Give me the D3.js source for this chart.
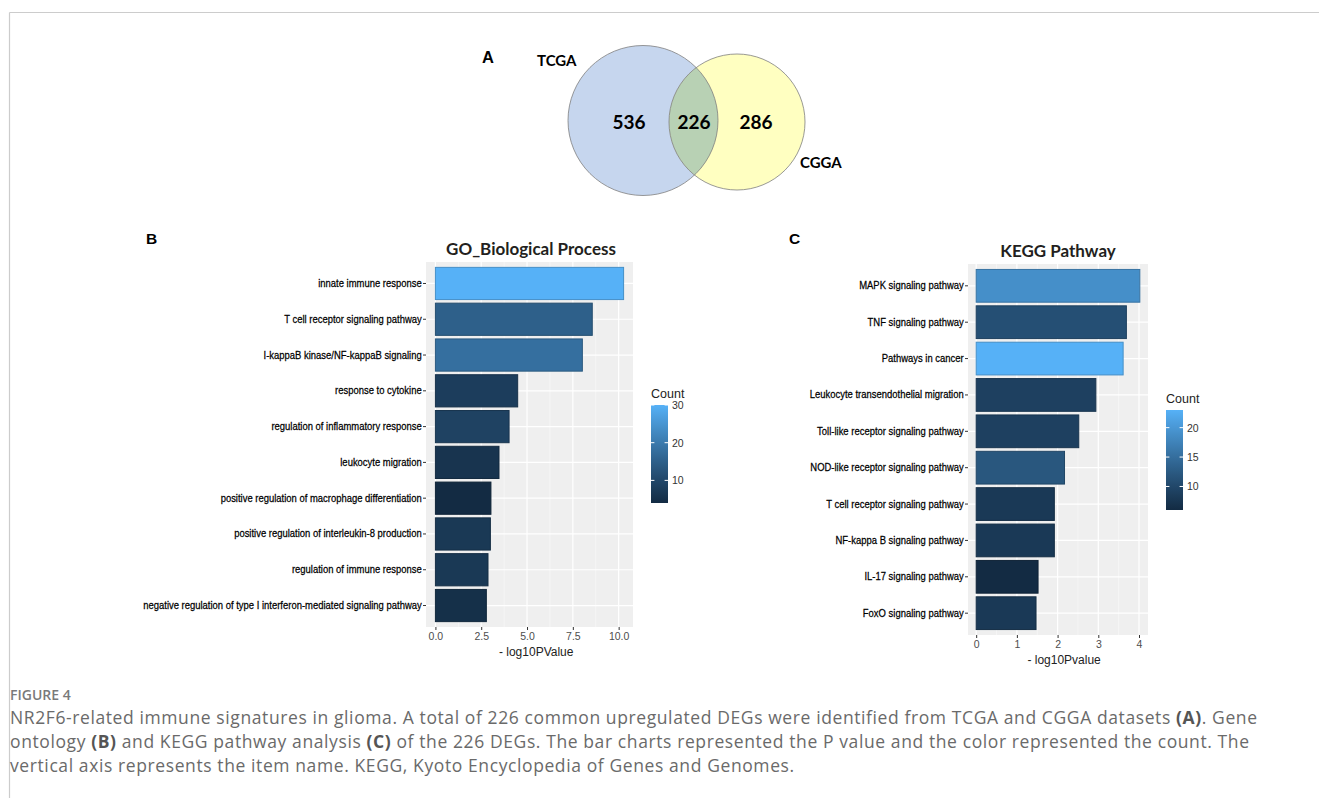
<!DOCTYPE html>
<html>
<head>
<meta charset="utf-8">
<script src="https://cdn.jsdelivr.net/npm/d3@7"></script>
<style>
  body { margin: 0; background: #fff; }
</style>
</head>
<body>
<div id="fig"></div>
<script>
// ---- data ----
var vennSets = ["TCGA", "CGGA"]
var vennCounts = [536, 226, 286]   // TCGA only, both, CGGA only

var goTerms = [
  "innate immune response",
  "T cell receptor signaling pathway",
  "I-kappaB kinase/NF-kappaB signaling",
  "response to cytokine",
  "regulation of inflammatory response",
  "leukocyte migration",
  "positive regulation of macrophage differentiation",
  "positive regulation of interleukin-8 production",
  "regulation of immune response",
  "negative regulation of type I interferon-mediated signaling pathway"
]
var goLogP = [10.27, 8.56, 8.02, 4.49, 4.02, 3.47, 3.03, 3.0, 2.87, 2.78]
var goCount = [30, 15, 18, 8, 9, 6, 4, 7, 7, 5]
var goTicks = [0, 2.5, 5, 7.5, 10]
var goLegendTicks = [10, 20, 30]

var keggTerms = [
  "MAPK signaling pathway",
  "TNF signaling pathway",
  "Pathways in cancer",
  "Leukocyte transendothelial migration",
  "Toll-like receptor signaling pathway",
  "NOD-like receptor signaling pathway",
  "T cell receptor signaling pathway",
  "NF-kappa B signaling pathway",
  "IL-17 signaling pathway",
  "FoxO signaling pathway"
]
var keggLogP = [4.02, 3.69, 3.61, 2.94, 2.52, 2.17, 1.92, 1.92, 1.52, 1.47]
var keggCount = [19, 11, 23, 9, 9, 12, 8, 8, 6, 8]
var keggTicks = [0, 1, 2, 3, 4]
var keggLegendTicks = [10, 15, 20]

var captionTitle = "FIGURE 4"
var captionLines = [
  [["NR2F6-related immune signatures in glioma. A total of 226 common upregulated DEGs were identified from TCGA and CGGA datasets ", 0], ["(A)", 1], [". Gene", 0]],
  [["ontology ", 0], ["(B)", 1], [" and KEGG pathway analysis ", 0], ["(C)", 1], [" of the 226 DEGs. The bar charts represented the P value and the color represented the count. The", 0]],
  [["vertical axis represents the item name. KEGG, Kyoto Encyclopedia of Genes and Genomes.", 0]]
]

var W = 1319, H = 798
var svg = d3.select("#fig").append("svg").attr("width", W).attr("height", H)
    .style("font-family", "'Liberation Sans', Arial, sans-serif")

// frame lines
svg.append("line").attr("x1", 9.5).attr("y1", 12.5).attr("x2", W).attr("y2", 12.5)
    .attr("stroke", "#cccccc").attr("stroke-width", 1.2)
svg.append("line").attr("x1", 9.5).attr("y1", 12.5).attr("x2", 9.5).attr("y2", H)
    .attr("stroke", "#cccccc").attr("stroke-width", 1.2)

// ---- venn (A) ----
function draw_venn() {
    var g = svg.append("g")
    var c1 = {x: 643, y: 120.5, r: 75}
    var c2 = {x: 737, y: 122, r: 68}

    svg.append("clipPath").attr("id", "clip-left")
        .append("circle").attr("cx", c1.x).attr("cy", c1.y).attr("r", c1.r)

    g.append("circle").attr("cx", c1.x).attr("cy", c1.y).attr("r", c1.r)
        .attr("fill", "#c6d6ee")
    g.append("circle").attr("cx", c2.x).attr("cy", c2.y).attr("r", c2.r)
        .attr("fill", "#ffffc1")
    g.append("circle").attr("cx", c2.x).attr("cy", c2.y).attr("r", c2.r)
        .attr("fill", "#b8d1b4").attr("clip-path", "url(#clip-left)")
    g.selectAll("circle.edge").data([c1, c2]).enter().append("circle")
        .attr("class", "edge")
        .attr("cx", d => d.x).attr("cy", d => d.y).attr("r", d => d.r)
        .attr("fill", "none").attr("stroke", "#7f7f7f").attr("stroke-width", 0.8)

    var numX = [629, 694, 756]
    g.selectAll("text.num").data(vennCounts).enter().append("text")
        .attr("class", "num")
        .attr("x", (d, i) => numX[i]).attr("y", 129)
        .attr("text-anchor", "middle")
        .style("font-family", "Lato, 'Open Sans', sans-serif")
        .style("font-weight", "bold").style("font-size", "19px")
        .text(d => d)

    g.append("text").attr("x", 537).attr("y", 66).text(vennSets[0])
        .style("font-family", "Lato, sans-serif").style("font-weight", "bold").style("font-size", "15px")
    g.append("text").attr("x", 800).attr("y", 168).text(vennSets[1])
        .style("font-family", "Lato, sans-serif").style("font-weight", "bold").style("font-size", "15px")

    g.append("text").attr("x", 482).attr("y", 63).text("A")
        .style("font-weight", "bold").style("font-size", "16.5px")
}

// ---- bar panel (B, C) ----
function draw_bars(opt) {
    var g = svg.append("g")
    var maxV = d3.max(opt.values)
    var x = d3.scaleLinear()
        .domain([-0.05 * maxV, 1.05 * maxV])
        .range([opt.left, opt.right])
    var y = d3.scaleBand()
        .domain(opt.terms)
        .range([opt.top, opt.bottom])
        .paddingInner(0.1)
        .paddingOuter(0.15)
    var ext = d3.extent(opt.counts)
    var color = d3.scaleLinear().domain(ext)
        .range(["#132B43", "#56B1F7"])
        .interpolate(d3.interpolateLab)

    // panel background + grid
    g.append("rect")
        .attr("x", opt.left).attr("y", opt.top)
        .attr("width", opt.right - opt.left).attr("height", opt.bottom - opt.top)
        .attr("fill", "#efefef")

    var minor = []
    for (var i = 0; i < opt.ticks.length - 1; i++) minor.push((opt.ticks[i] + opt.ticks[i + 1]) / 2)
    minor.push(opt.ticks[opt.ticks.length - 1] + (opt.ticks[1] - opt.ticks[0]) / 2)
    minor = minor.filter(v => x(v) < opt.right)

    g.selectAll("line.minor").data(minor).enter().append("line")
        .attr("x1", d => x(d)).attr("x2", d => x(d))
        .attr("y1", opt.top).attr("y2", opt.bottom)
        .attr("stroke", "#fafafa").attr("stroke-width", 0.6)
    g.selectAll("line.major").data(opt.ticks).enter().append("line")
        .attr("x1", d => x(d)).attr("x2", d => x(d))
        .attr("y1", opt.top).attr("y2", opt.bottom)
        .attr("stroke", "#ffffff").attr("stroke-width", 1.2)
    g.selectAll("line.hmajor").data(opt.terms).enter().append("line")
        .attr("x1", opt.left).attr("x2", opt.right)
        .attr("y1", d => y(d) + y.bandwidth() / 2).attr("y2", d => y(d) + y.bandwidth() / 2)
        .attr("stroke", "#ffffff").attr("stroke-width", 1.2)

    // bars
    g.selectAll("rect.bar").data(opt.terms).enter().append("rect")
        .attr("class", "bar")
        .attr("x", x(0))
        .attr("y", d => y(d))
        .attr("width", (d, i) => x(opt.values[i]) - x(0))
        .attr("height", y.bandwidth())
        .attr("fill", (d, i) => color(opt.counts[i]))
        .attr("stroke", (d, i) => d3.color(color(opt.counts[i])).darker(0.6))
        .attr("stroke-width", 1)

    // axes
    var yAxis = g.append("g")
        .attr("transform", "translate(" + opt.left + ",0)")
        .call(d3.axisLeft(y).tickSize(3).tickPadding(2))
    yAxis.select(".domain").remove()
    yAxis.selectAll(".tick line").attr("stroke", "#333")
    yAxis.selectAll(".tick text")
        .style("font-family", "'Liberation Sans', Arial, sans-serif")
        .style("font-size", "11px").attr("fill", "#000")
        .attr("stroke", "#000").attr("stroke-width", 0.25)
        .attr("transform", "scale(0.86,1)")

    var xAxis = g.append("g")
        .attr("transform", "translate(0," + opt.bottom + ")")
        .call(d3.axisBottom(x).tickValues(opt.ticks).tickFormat(opt.fmt).tickSize(3).tickPadding(3))
    xAxis.select(".domain").remove()
    xAxis.selectAll(".tick line").attr("stroke", "#333")
    xAxis.selectAll(".tick text").style("font-size", "10.5px").attr("fill", "#4d4d4d")
        .style("font-family", "'Liberation Sans', Arial, sans-serif")

    g.append("text")
        .attr("x", (x(0) + opt.right) / 2 + 2).attr("y", opt.bottom + 29)
        .attr("text-anchor", "middle").style("font-size", "12px").attr("fill", "#222")
        .text(opt.xlabel)

    // title
    g.append("text")
        .attr("x", opt.titleX).attr("y", opt.top - 7)
        .attr("text-anchor", "middle")
        .style("font-family", "Lato, sans-serif").style("font-weight", "bold").style("font-size", "17px")
        .attr("fill", "#231f20")
        .text(opt.title)

    // panel letter
    g.append("text").attr("x", opt.letterX).attr("y", 244).text(opt.letter)
        .style("font-weight", "bold").style("font-size", "15.5px")

    // legend
    var lg = opt.legend
    var gid = "grad-" + opt.letter
    var grad = svg.append("defs").append("linearGradient").attr("id", gid)
        .attr("x1", 0).attr("y1", 1).attr("x2", 0).attr("y2", 0)
    d3.range(0, 1.0001, 0.05).forEach(t => {
        grad.append("stop").attr("offset", t)
            .attr("stop-color", color(ext[0] + t * (ext[1] - ext[0])))
    })
    var ly = d3.scaleLinear().domain(ext).range([lg.bottom, lg.top])
    g.append("rect").attr("x", lg.x).attr("y", lg.top)
        .attr("width", lg.w).attr("height", lg.bottom - lg.top)
        .attr("fill", "url(#" + gid + ")")
    g.selectAll("line.lt1").data(opt.legendTicks).enter().append("line")
        .attr("x1", lg.x).attr("x2", lg.x + lg.w / 5)
        .attr("y1", d => ly(d)).attr("y2", d => ly(d))
        .attr("stroke", "#fff").attr("stroke-width", 1)
    g.selectAll("line.lt2").data(opt.legendTicks).enter().append("line")
        .attr("x1", lg.x + lg.w * 4 / 5).attr("x2", lg.x + lg.w)
        .attr("y1", d => ly(d)).attr("y2", d => ly(d))
        .attr("stroke", "#fff").attr("stroke-width", 1)
    g.selectAll("text.lt").data(opt.legendTicks).enter().append("text")
        .attr("x", lg.x + lg.w + 4).attr("y", d => ly(d) + 4)
        .style("font-size", "10.5px").attr("fill", "#333")
        .text(d => d)
    g.append("text").attr("x", lg.x).attr("y", lg.top - 7)
        .style("font-size", "12.5px").attr("fill", "#222").text("Count")
}

draw_venn()

draw_bars({
    terms: goTerms, values: goLogP, counts: goCount, ticks: goTicks,
    fmt: d3.format(".1f"), legendTicks: goLegendTicks,
    left: 426, right: 633, top: 262, bottom: 627,
    xlabel: "- log10PValue", title: "GO_Biological Process", titleX: 531,
    letter: "B", letterX: 146,
    legend: {x: 651, w: 17, top: 405, bottom: 503}
})

draw_bars({
    terms: keggTerms, values: keggLogP, counts: keggCount, ticks: keggTicks,
    fmt: d3.format("d"), legendTicks: keggLegendTicks,
    left: 968, right: 1148, top: 264, bottom: 635,
    xlabel: "- log10Pvalue", title: "KEGG Pathway", titleX: 1058,
    letter: "C", letterX: 789,
    legend: {x: 1166, w: 17, top: 410, bottom: 510}
})

// ---- caption ----
var cap = svg.append("g")
cap.append("text").attr("x", 10).attr("y", 700)
    .style("font-family", "'Open Sans', sans-serif")
    .style("font-size", "14px").style("font-weight", "600").attr("fill", "#7a7a7a")
    .text(captionTitle)
captionLines.forEach((parts, i) => {
    var t = cap.append("text").attr("x", 10).attr("y", 724 + i * 24)
        .style("font-family", "'Open Sans', sans-serif")
        .style("font-size", "17.5px").style("letter-spacing", "0.6px")
        .attr("fill", "#6a6a6a")
    parts.forEach(p => {
        t.append("tspan").text(p[0])
            .style("font-weight", p[1] ? "bold" : "normal")
            .attr("fill", p[1] ? "#555" : "#6a6a6a")
    })
})
</script>
</body>
</html>
